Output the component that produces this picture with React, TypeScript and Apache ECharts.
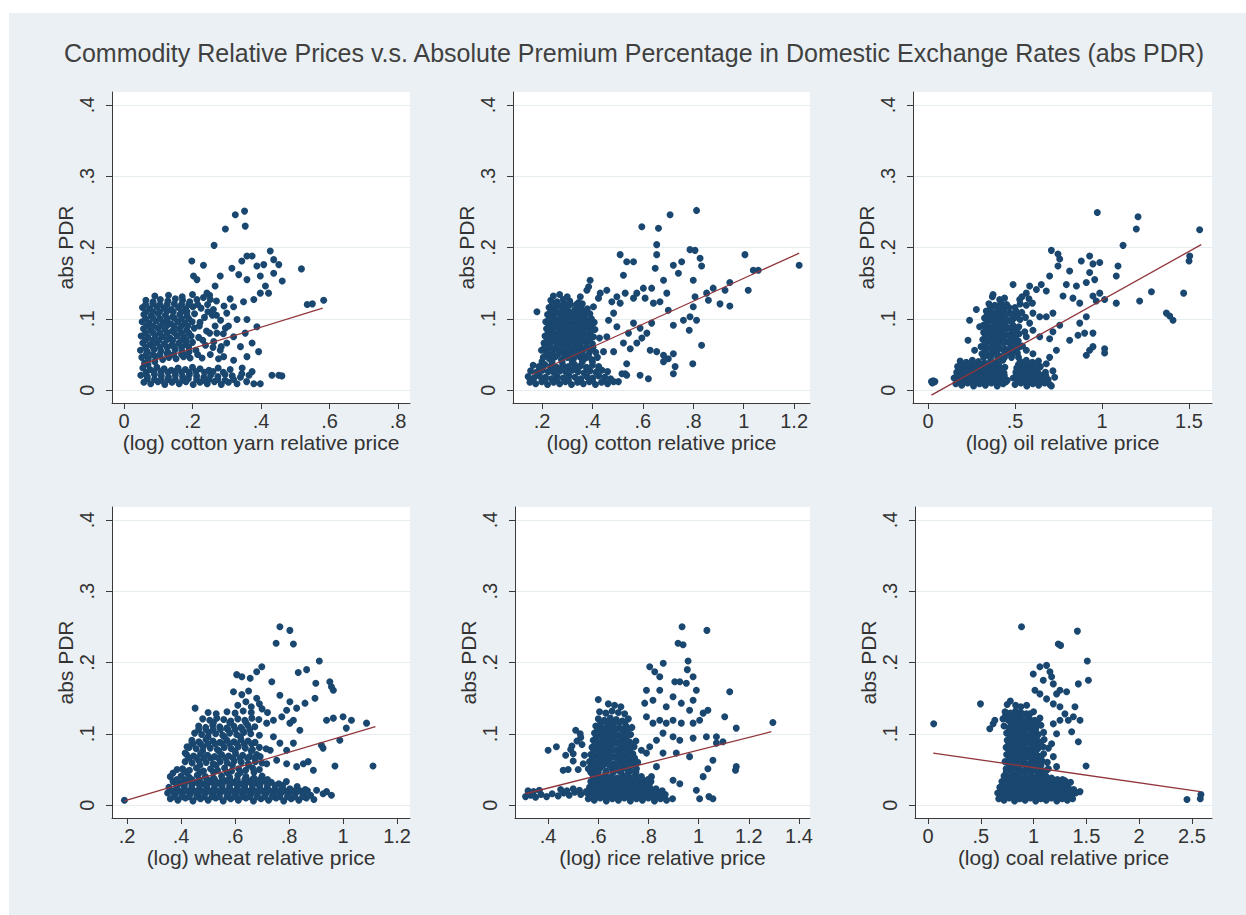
import React, { useEffect, useRef } from "react";
import * as echarts from "echarts";

const TITLE = "Commodity Relative Prices v.s. Absolute Premium Percentage in Domestic Exchange Rates (abs PDR)";
const Y_NAME = "abs PDR";
const Y_TICKS = [0, 0.1, 0.2, 0.3, 0.4];
const Y_MIN = -0.018;
const Y_MAX = 0.418;

// ---------- Panel 1: cotton yarn ----------
const yarnName = "(log) cotton yarn relative price";
const yarnTicks = [0, 0.2, 0.4, 0.6, 0.8];
const yarnRange = [-0.035, 0.835];
const yarnFit = [[0.05, 0.036], [0.58, 0.115]];
const yarnPoints = [
  [0.052,0.046],[0.071,0.044],[0.092,0.047],[0.113,0.043],[0.131,0.046],[0.152,0.044],[0.174,0.047],[0.193,0.045],
  [0.048,0.056],[0.068,0.054],[0.088,0.057],[0.108,0.055],[0.128,0.053],[0.149,0.057],[0.169,0.055],[0.19,0.054],[0.21,0.056],
  [0.055,0.066],[0.076,0.064],[0.097,0.067],[0.118,0.065],[0.139,0.063],[0.16,0.066],[0.181,0.064],[0.2,0.067],
  [0.05,0.076],[0.07,0.074],[0.091,0.077],[0.112,0.075],[0.134,0.073],[0.155,0.076],[0.176,0.074],[0.196,0.076],[0.218,0.074],
  [0.057,0.086],[0.078,0.084],[0.099,0.087],[0.12,0.085],[0.141,0.083],[0.162,0.086],[0.183,0.084],[0.205,0.087],
  [0.053,0.096],[0.073,0.094],[0.094,0.097],[0.115,0.095],[0.136,0.093],[0.157,0.096],[0.178,0.094],[0.199,0.096],[0.222,0.095],
  [0.058,0.106],[0.079,0.104],[0.1,0.107],[0.121,0.105],[0.142,0.103],[0.163,0.106],[0.184,0.104],[0.206,0.107],
  [0.054,0.116],[0.075,0.114],[0.096,0.117],[0.117,0.115],[0.138,0.113],[0.159,0.116],[0.18,0.114],[0.201,0.117],[0.225,0.115],
  [0.064,0.126],[0.085,0.124],[0.106,0.127],[0.128,0.125],[0.15,0.128],[0.171,0.126],[0.192,0.124],[0.213,0.127],
  [0.09,0.132],[0.13,0.133],[0.17,0.131],[0.2,0.134],
  [0.065,0.05],[0.105,0.05],[0.145,0.05],[0.185,0.05],[0.062,0.07],[0.102,0.07],[0.142,0.07],[0.182,0.07],
  [0.066,0.09],[0.106,0.09],[0.146,0.09],[0.186,0.09],[0.064,0.11],[0.104,0.11],[0.144,0.11],[0.184,0.11],
  [0.068,0.016],[0.128,0.015],[0.188,0.016],[0.248,0.015],[0.108,0.026],[0.168,0.025],
  [0.228,0.045],[0.252,0.05],[0.276,0.044],[0.238,0.063],[0.262,0.068],[0.284,0.061],[0.241,0.083],[0.266,0.09],[0.29,0.079],
  [0.235,0.102],[0.258,0.105],[0.282,0.098],[0.244,0.12],[0.27,0.125],[0.292,0.118],[0.232,0.13],[0.31,0.128],[0.305,0.09],[0.25,0.133],
  [0.058,0.011],[0.078,0.009],[0.099,0.012],[0.119,0.008],[0.14,0.011],[0.161,0.009],[0.181,0.012],[0.202,0.008],[0.222,0.011],
  [0.243,0.009],[0.264,0.012],[0.284,0.008],[0.305,0.011],[0.33,0.009],[0.358,0.012],
  [0.049,0.021],[0.068,0.019],[0.089,0.022],[0.109,0.02],[0.13,0.018],[0.15,0.021],[0.171,0.019],[0.191,0.022],[0.212,0.02],
  [0.233,0.018],[0.253,0.021],[0.274,0.019],[0.295,0.022],[0.316,0.02],[0.34,0.018],[0.365,0.021],
  [0.055,0.031],[0.076,0.029],[0.096,0.032],[0.117,0.03],[0.138,0.028],[0.158,0.031],[0.179,0.029],[0.2,0.032],[0.222,0.03],
  [0.248,0.028],[0.275,0.031],[0.31,0.029],[0.345,0.031],[0.06,0.038],[0.09,0.04],[0.07,0.036],
  [0.266,0.146],[0.242,0.136],[0.213,0.155],[0.281,0.16],[0.315,0.171],[0.335,0.162],[0.344,0.181],[0.359,0.188],[0.374,0.188],
  [0.359,0.155],[0.388,0.174],[0.398,0.16],[0.408,0.176],[0.427,0.195],[0.437,0.183],[0.452,0.176],[0.437,0.164],[0.462,0.153],
  [0.422,0.136],[0.398,0.136],[0.413,0.146],[0.379,0.127],[0.349,0.124],[0.32,0.117],[0.3,0.108],[0.33,0.099],[0.359,0.099],
  [0.388,0.089],[0.354,0.08],[0.32,0.075],[0.296,0.087],[0.271,0.08],[0.3,0.066],[0.34,0.061],[0.374,0.066],[0.393,0.054],
  [0.359,0.047],[0.32,0.042],[0.291,0.047],[0.281,0.056],[0.261,0.113],[0.252,0.127],[0.203,0.16],[0.198,0.181],[0.232,0.175],
  [0.263,0.203],[0.296,0.226],[0.325,0.246],[0.352,0.251],[0.354,0.23],[0.518,0.17],[0.535,0.12],[0.55,0.121],[0.583,0.126],
  [0.432,0.021],[0.452,0.021],[0.461,0.02],[0.379,0.009],[0.398,0.009],[0.374,0.026],[0.344,0.023]
];
const yarnCore = [
  [0.084,0.05],[0.126,0.051],[0.168,0.05],
  [0.063,0.06],[0.084,0.061],[0.105,0.06],[0.126,0.06],[0.147,0.061],[0.168,0.06],[0.189,0.06],
  [0.084,0.07],[0.126,0.071],[0.168,0.07],
  [0.063,0.08],[0.084,0.081],[0.105,0.08],[0.126,0.08],[0.147,0.081],[0.168,0.08],[0.189,0.08],
  [0.084,0.09],[0.126,0.091],[0.168,0.09],
  [0.063,0.1],[0.084,0.101],[0.105,0.1],[0.126,0.1],[0.147,0.101],[0.168,0.1],[0.189,0.1],
  [0.084,0.11],[0.126,0.111],[0.168,0.11],
  [0.063,0.12],[0.084,0.121],[0.105,0.12],[0.126,0.12],[0.147,0.121],[0.168,0.12],[0.189,0.12],
  [0.089,0.015],[0.109,0.014],[0.15,0.015],[0.171,0.014],[0.212,0.015],[0.233,0.014],[0.274,0.015],[0.295,0.014],[0.32,0.015],
  [0.065,0.025],[0.087,0.026],[0.128,0.025],[0.149,0.026],[0.19,0.025],[0.21,0.026],[0.235,0.025],[0.26,0.026],[0.29,0.025],
  [0.215,0.05],[0.23,0.07],[0.25,0.08],[0.22,0.09],[0.245,0.11],[0.27,0.105],[0.215,0.12],[0.26,0.06]
];

// ---------- Panel 2: cotton ----------
const cottonName = "(log) cotton relative price";
const cottonTicks = [0.2, 0.4, 0.6, 0.8, 1, 1.2];
const cottonRange = [0.085, 1.263];
const cottonFit = [[0.16, 0.022], [1.22, 0.192]];
const cottonPoints = [
  [0.152,0.011],[0.175,0.009],[0.199,0.012],[0.222,0.008],[0.246,0.011],[0.27,0.009],[0.293,0.012],[0.317,0.008],[0.341,0.011],
  [0.364,0.009],[0.388,0.012],[0.412,0.008],[0.436,0.011],[0.46,0.009],[0.484,0.012],
  [0.145,0.019],[0.168,0.017],[0.19,0.02],[0.214,0.018],[0.237,0.016],[0.26,0.019],[0.284,0.017],[0.307,0.02],[0.331,0.018],
  [0.354,0.016],[0.378,0.019],[0.401,0.017],[0.425,0.02],[0.449,0.018],[0.472,0.016],
  [0.155,0.027],[0.178,0.025],[0.202,0.028],[0.225,0.026],[0.249,0.024],[0.272,0.027],[0.296,0.025],[0.32,0.028],[0.343,0.026],
  [0.367,0.024],[0.39,0.027],[0.414,0.025],[0.438,0.028],[0.46,0.026],
  [0.165,0.035],[0.188,0.033],[0.211,0.036],[0.235,0.034],[0.258,0.032],[0.282,0.035],[0.305,0.033],[0.329,0.036],[0.352,0.034],
  [0.376,0.032],[0.4,0.035],[0.425,0.033],
  [0.205,0.046],[0.229,0.044],[0.253,0.047],[0.277,0.043],[0.301,0.046],[0.325,0.044],[0.349,0.047],[0.373,0.045],[0.397,0.043],[0.42,0.046],
  [0.198,0.056],[0.221,0.054],[0.245,0.057],[0.269,0.055],[0.293,0.053],[0.317,0.056],[0.341,0.054],[0.365,0.057],[0.39,0.055],[0.413,0.053],
  [0.208,0.066],[0.232,0.064],[0.256,0.067],[0.28,0.065],[0.304,0.063],[0.328,0.066],[0.352,0.064],[0.376,0.067],[0.4,0.065],
  [0.212,0.076],[0.236,0.074],[0.26,0.077],[0.284,0.075],[0.308,0.073],[0.332,0.076],[0.356,0.074],[0.38,0.077],[0.404,0.075],[0.428,0.073],
  [0.218,0.086],[0.242,0.084],[0.266,0.087],[0.29,0.085],[0.314,0.083],[0.338,0.086],[0.362,0.084],[0.386,0.087],[0.41,0.085],
  [0.215,0.096],[0.239,0.094],[0.263,0.097],[0.287,0.095],[0.311,0.093],[0.335,0.096],[0.359,0.094],[0.383,0.097],[0.407,0.095],
  [0.222,0.106],[0.246,0.104],[0.27,0.107],[0.294,0.105],[0.318,0.103],[0.342,0.106],[0.366,0.104],[0.39,0.107],
  [0.228,0.116],[0.252,0.114],[0.276,0.117],[0.3,0.115],[0.33,0.113],[0.355,0.116],[0.38,0.114],
  [0.235,0.126],[0.26,0.124],[0.284,0.127],[0.31,0.125],[0.345,0.123],[0.245,0.132],[0.27,0.134],[0.3,0.131],
  [0.51,0.19],[0.536,0.18],[0.563,0.18],[0.596,0.229],[0.662,0.227],[0.655,0.204],[0.655,0.19],[0.649,0.171],[0.708,0.246],
  [0.813,0.252],[0.787,0.197],[0.807,0.196],[0.827,0.185],[0.833,0.174],[1.005,0.19],[1.22,0.175],[1.038,0.168],[1.058,0.168],
  [1.018,0.14],[0.945,0.151],[0.926,0.14],[0.906,0.121],[0.945,0.118],[0.833,0.063],[0.798,0.037],[0.721,0.023],[0.728,0.033],
  [0.721,0.175],[0.741,0.164],[0.754,0.18],[0.8,0.154],[0.807,0.131],[0.853,0.136],[0.879,0.143],[0.86,0.126],[0.8,0.117],
  [0.787,0.103],[0.813,0.098],[0.784,0.084],[0.761,0.098],[0.721,0.091],[0.701,0.112],[0.668,0.124],[0.695,0.136],[0.682,0.154],
  [0.635,0.143],[0.602,0.143],[0.576,0.136],[0.609,0.129],[0.642,0.122],[0.563,0.129],[0.53,0.136],[0.497,0.131],[0.51,0.122],
  [0.477,0.124],[0.457,0.14],[0.391,0.154],[0.385,0.145],[0.431,0.136],[0.523,0.161],[0.635,0.094],[0.616,0.08],[0.589,0.087],
  [0.563,0.094],[0.543,0.08],[0.523,0.066],[0.55,0.058],[0.576,0.066],[0.596,0.073],[0.484,0.108],[0.464,0.098],[0.497,0.089],
  [0.457,0.075],[0.444,0.054],[0.484,0.054],[0.629,0.056],[0.655,0.054],[0.682,0.049],[0.701,0.044],[0.721,0.051],[0.682,0.04],
  [0.536,0.037],[0.517,0.023],[0.536,0.021],[0.589,0.021],[0.622,0.016],[0.503,0.012],[0.53,0.023],[0.18,0.11],[0.352,0.131],
  [0.378,0.14],[0.424,0.129],[0.404,0.117]
];
const cottonCore = [
  [0.217,0.05],[0.241,0.05],[0.265,0.051],[0.289,0.05],[0.313,0.05],[0.337,0.051],[0.361,0.05],[0.385,0.05],
  [0.22,0.07],[0.244,0.07],[0.268,0.071],[0.292,0.07],[0.316,0.07],[0.34,0.071],[0.364,0.07],[0.388,0.07],
  [0.227,0.09],[0.251,0.09],[0.275,0.091],[0.299,0.09],[0.323,0.09],[0.347,0.091],[0.371,0.09],[0.395,0.09],
  [0.234,0.11],[0.258,0.11],[0.282,0.111],[0.306,0.11],[0.33,0.11],[0.354,0.111],[0.378,0.11],
  [0.21,0.06],[0.234,0.06],[0.258,0.061],[0.282,0.06],[0.306,0.06],[0.33,0.061],[0.354,0.06],[0.378,0.06],[0.402,0.06],
  [0.224,0.08],[0.248,0.08],[0.272,0.081],[0.296,0.08],[0.32,0.08],[0.344,0.081],[0.368,0.08],[0.392,0.08],
  [0.228,0.1],[0.252,0.1],[0.276,0.101],[0.3,0.1],[0.324,0.1],[0.348,0.101],[0.372,0.1],[0.396,0.1],
  [0.24,0.12],[0.264,0.12],[0.288,0.121],[0.312,0.12],[0.336,0.12],[0.36,0.121],
  [0.2,0.04],[0.24,0.04],[0.28,0.04],[0.32,0.04],[0.36,0.04],[0.4,0.04],
  [0.163,0.014],[0.21,0.014],[0.258,0.014],[0.305,0.014],[0.352,0.014],[0.4,0.014],[0.447,0.014],
  [0.19,0.03],[0.237,0.03],[0.284,0.03],[0.331,0.03],[0.378,0.03],[0.425,0.03]
];

// ---------- Panel 3: oil ----------
const oilName = "(log) oil relative price";
const oilTicks = [0, 0.5, 1, 1.5];
const oilRange = [-0.086, 1.632];
const oilFit = [[0.02, -0.007], [1.57, 0.204]];
const oilPoints = [
  [0.02,0.012],[0.03,0.013],[0.04,0.012],[0.025,0.01],
  [0.16,0.009],[0.194,0.007],[0.228,0.01],[0.262,0.006],[0.296,0.009],[0.33,0.007],[0.364,0.01],[0.398,0.006],[0.432,0.009],
  [0.5,0.008],[0.534,0.01],[0.568,0.006],[0.602,0.009],[0.636,0.007],[0.67,0.01],[0.7,0.008],
  [0.15,0.017],[0.184,0.015],[0.218,0.018],[0.252,0.016],[0.286,0.014],[0.32,0.017],[0.354,0.015],[0.388,0.018],[0.422,0.016],
  [0.456,0.014],[0.49,0.017],[0.524,0.015],[0.558,0.018],[0.592,0.016],[0.626,0.014],[0.66,0.017],[0.69,0.015],
  [0.165,0.025],[0.199,0.023],[0.233,0.026],[0.267,0.024],[0.301,0.022],[0.335,0.025],[0.369,0.023],[0.403,0.026],[0.437,0.024],
  [0.505,0.025],[0.539,0.023],[0.573,0.026],[0.607,0.024],[0.641,0.022],[0.675,0.025],
  [0.17,0.033],[0.204,0.031],[0.238,0.034],[0.272,0.032],[0.306,0.03],[0.34,0.033],[0.374,0.031],[0.408,0.034],[0.442,0.032],
  [0.51,0.031],[0.544,0.034],[0.578,0.032],[0.612,0.03],[0.646,0.033],
  [0.185,0.041],[0.22,0.039],[0.255,0.042],[0.29,0.04],[0.325,0.038],[0.36,0.041],[0.395,0.039],[0.43,0.042],[0.53,0.04],
  [0.565,0.042],[0.6,0.039],[0.635,0.041],
  [0.31,0.051],[0.344,0.049],[0.378,0.052],[0.412,0.048],[0.446,0.051],[0.48,0.049],[0.514,0.052],
  [0.305,0.061],[0.339,0.059],[0.373,0.062],[0.407,0.06],[0.441,0.058],[0.475,0.061],[0.509,0.059],[0.543,0.062],
  [0.315,0.071],[0.349,0.069],[0.383,0.072],[0.417,0.07],[0.451,0.068],[0.485,0.071],[0.519,0.069],
  [0.32,0.081],[0.354,0.079],[0.388,0.082],[0.422,0.08],[0.456,0.078],[0.49,0.081],[0.524,0.079],[0.556,0.082],
  [0.318,0.091],[0.352,0.089],[0.386,0.092],[0.42,0.09],[0.454,0.088],[0.488,0.091],[0.522,0.089],
  [0.325,0.101],[0.359,0.099],[0.393,0.102],[0.427,0.1],[0.461,0.098],[0.495,0.101],[0.529,0.099],[0.56,0.102],
  [0.335,0.111],[0.369,0.109],[0.403,0.112],[0.437,0.11],[0.471,0.108],[0.505,0.111],[0.539,0.109],
  [0.35,0.121],[0.384,0.119],[0.418,0.122],[0.452,0.12],[0.53,0.121],[0.565,0.119],[0.6,0.122],
  [0.37,0.131],[0.44,0.129],[0.54,0.131],[0.58,0.128],
  [0.33,0.056],[0.4,0.056],[0.47,0.056],[0.33,0.076],[0.4,0.076],[0.47,0.076],[0.34,0.096],[0.41,0.096],[0.48,0.096],
  [0.36,0.116],[0.43,0.116],[0.5,0.116],
  [0.239,0.098],[0.23,0.07],[0.268,0.056],[0.374,0.134],[0.412,0.127],[0.489,0.148],[0.527,0.127],[0.565,0.136],[0.584,0.146],
  [0.623,0.141],[0.651,0.148],[0.68,0.139],[0.699,0.16],[0.709,0.196],[0.747,0.191],[0.757,0.184],[0.747,0.174],[0.814,0.167],
  [0.881,0.181],[0.929,0.188],[0.948,0.177],[0.987,0.179],[0.929,0.165],[0.958,0.155],[0.91,0.151],[0.853,0.146],[0.795,0.148],
  [0.776,0.132],[0.833,0.129],[0.872,0.122],[0.948,0.132],[0.987,0.136],[0.967,0.125],[1.015,0.127],[1.082,0.122],[1.082,0.16],
  [1.092,0.174],[1.121,0.203],[1.197,0.226],[1.207,0.243],[0.973,0.249],[1.561,0.225],[1.504,0.188],[1.5,0.181],[1.469,0.136],
  [1.284,0.138],[1.216,0.125],[1.37,0.108],[1.389,0.104],[1.408,0.098],[1.015,0.058],[1.015,0.052],[0.948,0.061],[0.929,0.056],
  [0.91,0.049],[0.948,0.08],[0.9,0.08],[0.862,0.077],[0.872,0.094],[0.91,0.103],[0.814,0.07],[0.757,0.091],[0.718,0.082],
  [0.699,0.072],[0.738,0.056],[0.699,0.046],[0.68,0.037],[0.718,0.027],[0.709,0.006],[0.728,0.018],[0.642,0.075],[0.603,0.084],
  [0.68,0.103],[0.718,0.108],[0.642,0.103],[0.603,0.108],[0.584,0.094],[0.565,0.075],[0.527,0.061],[0.565,0.056],[0.603,0.051],
  [0.489,0.056],[0.278,0.113],[0.297,0.089]
];
const oilCore = [
  [0.33,0.066],[0.365,0.066],[0.4,0.066],[0.435,0.066],[0.47,0.066],[0.505,0.066],
  [0.335,0.086],[0.37,0.086],[0.405,0.086],[0.44,0.086],[0.475,0.086],[0.51,0.086],
  [0.34,0.106],[0.375,0.106],[0.41,0.106],[0.445,0.106],[0.48,0.106],[0.515,0.106],
  [0.365,0.056],[0.435,0.056],[0.505,0.056],[0.365,0.076],[0.435,0.076],[0.505,0.076],[0.375,0.096],[0.445,0.096],[0.395,0.116],[0.465,0.116],
  [0.177,0.012],[0.211,0.012],[0.245,0.012],[0.279,0.012],[0.313,0.012],[0.347,0.012],[0.381,0.012],[0.415,0.012],[0.449,0.012],
  [0.517,0.012],[0.551,0.012],[0.585,0.012],[0.619,0.012],[0.653,0.012],
  [0.187,0.028],[0.221,0.028],[0.255,0.028],[0.289,0.028],[0.323,0.028],[0.357,0.028],[0.391,0.028],[0.425,0.028],
  [0.527,0.028],[0.561,0.028],[0.595,0.028],[0.629,0.028],
  [0.167,0.02],[0.201,0.02],[0.235,0.02],[0.269,0.02],[0.303,0.02],[0.337,0.02],[0.371,0.02],[0.405,0.02],[0.439,0.02],
  [0.507,0.02],[0.541,0.02],[0.575,0.02],[0.609,0.02],[0.643,0.02],[0.677,0.02],
  [0.195,0.036],[0.23,0.036],[0.265,0.036],[0.3,0.036],[0.335,0.036],[0.37,0.036],[0.405,0.036],[0.52,0.036],[0.555,0.036],
  [0.59,0.036],[0.625,0.036],
  [0.32,0.046],[0.36,0.046],[0.4,0.046],[0.44,0.046],[0.48,0.046],[0.52,0.046]
];

// ---------- Panel 4: wheat ----------
const wheatName = "(log) wheat relative price";
const wheatTicks = [0.2, 0.4, 0.6, 0.8, 1, 1.2];
const wheatRange = [0.144, 1.248];
const wheatFit = [[0.19, 0.006], [1.12, 0.11]];
const wheatPoints = [
  [0.19,0.007],
  [0.36,0.009],[0.388,0.007],[0.416,0.01],[0.444,0.006],[0.472,0.009],[0.5,0.007],[0.528,0.01],[0.556,0.006],[0.584,0.009],
  [0.612,0.007],[0.64,0.01],[0.668,0.006],[0.696,0.009],[0.724,0.007],[0.752,0.01],[0.78,0.006],[0.808,0.009],[0.836,0.007],
  [0.864,0.01],[0.892,0.008],
  [0.35,0.017],[0.378,0.015],[0.406,0.018],[0.434,0.016],[0.462,0.014],[0.49,0.017],[0.518,0.015],[0.546,0.018],[0.574,0.016],
  [0.602,0.014],[0.63,0.017],[0.658,0.015],[0.686,0.018],[0.714,0.016],[0.742,0.014],[0.77,0.017],[0.798,0.015],[0.826,0.018],
  [0.854,0.016],[0.88,0.014],
  [0.355,0.025],[0.383,0.023],[0.411,0.026],[0.439,0.024],[0.467,0.022],[0.495,0.025],[0.523,0.023],[0.551,0.026],[0.579,0.024],
  [0.607,0.022],[0.635,0.025],[0.663,0.023],[0.691,0.026],[0.719,0.024],[0.747,0.022],[0.775,0.025],[0.803,0.023],[0.83,0.026],[0.86,0.022],
  [0.37,0.033],[0.398,0.031],[0.426,0.034],[0.454,0.032],[0.482,0.03],[0.51,0.033],[0.538,0.031],[0.566,0.034],[0.594,0.032],
  [0.622,0.03],[0.65,0.033],[0.678,0.031],[0.706,0.034],[0.734,0.032],[0.762,0.03],[0.79,0.033],
  [0.4,0.041],[0.43,0.039],[0.46,0.042],[0.49,0.04],[0.52,0.038],[0.55,0.041],[0.58,0.039],[0.61,0.042],[0.64,0.04],[0.67,0.038],[0.7,0.041],
  [0.405,0.051],[0.431,0.049],[0.457,0.052],[0.483,0.048],[0.509,0.051],[0.535,0.049],[0.561,0.052],[0.587,0.048],[0.613,0.051],
  [0.639,0.049],[0.665,0.052],[0.69,0.05],
  [0.415,0.061],[0.441,0.059],[0.467,0.062],[0.493,0.06],[0.519,0.058],[0.545,0.061],[0.571,0.059],[0.597,0.062],[0.623,0.06],
  [0.649,0.058],[0.675,0.061],[0.7,0.059],
  [0.42,0.071],[0.446,0.069],[0.472,0.072],[0.498,0.07],[0.524,0.068],[0.55,0.071],[0.576,0.069],[0.602,0.072],[0.628,0.07],
  [0.654,0.068],[0.68,0.071],
  [0.43,0.081],[0.456,0.079],[0.482,0.082],[0.508,0.08],[0.534,0.078],[0.56,0.081],[0.586,0.079],[0.612,0.082],[0.638,0.08],
  [0.664,0.078],[0.69,0.081],[0.715,0.079],
  [0.44,0.091],[0.466,0.089],[0.492,0.092],[0.518,0.09],[0.544,0.088],[0.57,0.091],[0.596,0.089],[0.622,0.092],[0.648,0.09],[0.674,0.088],
  [0.45,0.101],[0.476,0.099],[0.502,0.102],[0.528,0.1],[0.554,0.098],[0.58,0.101],[0.606,0.099],[0.632,0.102],[0.658,0.1],[0.69,0.098],
  [0.465,0.111],[0.491,0.109],[0.517,0.112],[0.543,0.11],[0.569,0.108],[0.595,0.111],[0.621,0.109],[0.647,0.112],[0.673,0.11],
  [0.48,0.121],[0.506,0.119],[0.532,0.122],[0.558,0.12],[0.584,0.118],[0.61,0.121],[0.636,0.119],[0.662,0.122],[0.688,0.12],
  [0.5,0.13],[0.53,0.128],[0.57,0.131],[0.6,0.129],[0.63,0.132],[0.66,0.13],
  [0.61,0.14],[0.64,0.145],[0.66,0.138],[0.625,0.155],[0.65,0.16],[0.68,0.15],[0.69,0.142],[0.7,0.135],[0.72,0.13],
  [0.37,0.045],[0.385,0.05],[0.36,0.04],
  [0.47,0.056],[0.53,0.056],[0.59,0.056],[0.65,0.056],[0.48,0.076],[0.54,0.076],[0.6,0.076],[0.66,0.076],
  [0.5,0.096],[0.56,0.096],[0.62,0.096],[0.52,0.116],[0.58,0.116],[0.64,0.116],
  [0.766,0.25],[0.803,0.245],[0.752,0.227],[0.816,0.226],[0.912,0.202],[0.865,0.19],[0.834,0.186],[0.699,0.194],[0.68,0.187],
  [0.606,0.183],[0.625,0.18],[0.656,0.178],[0.594,0.159],[0.736,0.173],[0.452,0.136],[0.766,0.154],[0.803,0.145],[0.828,0.136],
  [0.859,0.143],[0.896,0.15],[0.899,0.171],[0.951,0.173],[0.957,0.166],[0.964,0.161],[0.939,0.119],[0.964,0.122],[1.0,0.124],
  [1.031,0.119],[1.087,0.115],[1.012,0.108],[0.988,0.091],[0.92,0.084],[0.926,0.08],[0.97,0.055],[1.111,0.055],[0.816,0.119],
  [0.803,0.115],[0.791,0.133],[0.773,0.124],[0.84,0.105],[0.816,0.087],[0.791,0.077],[0.766,0.087],[0.742,0.096],[0.73,0.077],
  [0.754,0.063],[0.791,0.058],[0.828,0.054],[0.853,0.058],[0.89,0.049],[0.871,0.061],[0.717,0.058],[0.693,0.068],[0.717,0.115],
  [0.742,0.119],[0.422,0.082],[0.415,0.073],[0.44,0.087],[0.409,0.049],[0.939,0.019],[0.957,0.014],[0.902,0.021],[0.926,0.016]
];
const wheatCore = [
  [0.374,0.012],[0.402,0.012],[0.43,0.012],[0.458,0.012],[0.486,0.012],[0.514,0.012],[0.542,0.012],[0.57,0.012],[0.598,0.012],
  [0.626,0.012],[0.654,0.012],[0.682,0.012],[0.71,0.012],[0.738,0.012],[0.766,0.012],[0.794,0.012],[0.822,0.012],[0.85,0.012],
  [0.384,0.028],[0.412,0.028],[0.44,0.028],[0.468,0.028],[0.496,0.028],[0.524,0.028],[0.552,0.028],[0.58,0.028],[0.608,0.028],
  [0.636,0.028],[0.664,0.028],[0.692,0.028],[0.72,0.028],[0.748,0.028],[0.776,0.028],
  [0.364,0.02],[0.392,0.02],[0.42,0.02],[0.448,0.02],[0.476,0.02],[0.504,0.02],[0.532,0.02],[0.56,0.02],[0.588,0.02],[0.616,0.02],
  [0.644,0.02],[0.672,0.02],[0.7,0.02],[0.728,0.02],[0.756,0.02],[0.784,0.02],[0.812,0.02],[0.84,0.02],[0.868,0.02],
  [0.384,0.036],[0.412,0.036],[0.44,0.036],[0.468,0.036],[0.496,0.036],[0.524,0.036],[0.552,0.036],[0.58,0.036],[0.608,0.036],
  [0.636,0.036],[0.664,0.036],[0.692,0.036],[0.72,0.036],
  [0.42,0.046],[0.47,0.046],[0.52,0.046],[0.57,0.046],[0.62,0.046],[0.67,0.046],
  [0.43,0.066],[0.457,0.066],[0.484,0.066],[0.511,0.066],[0.538,0.066],[0.565,0.066],[0.592,0.066],[0.619,0.066],[0.646,0.066],[0.673,0.066],
  [0.445,0.086],[0.472,0.086],[0.499,0.086],[0.526,0.086],[0.553,0.086],[0.58,0.086],[0.607,0.086],[0.634,0.086],[0.661,0.086],
  [0.465,0.106],[0.492,0.106],[0.519,0.106],[0.546,0.106],[0.573,0.106],[0.6,0.106],[0.627,0.106],[0.654,0.106]
];

// ---------- Panel 5: rice ----------
const riceName = "(log) rice relative price";
const riceTicks = [0.4, 0.6, 0.8, 1, 1.2, 1.4];
const riceRange = [0.268, 1.444];
const riceFit = [[0.31, 0.016], [1.29, 0.103]];
const ricePoints = [
  [0.31,0.012],[0.33,0.014],[0.35,0.011],[0.372,0.015],[0.394,0.012],[0.416,0.016],[0.44,0.013],[0.462,0.017],[0.484,0.014],
  [0.506,0.018],[0.53,0.015],[0.552,0.019],[0.32,0.02],[0.342,0.019],[0.365,0.021],[0.45,0.022],[0.475,0.02],[0.5,0.023],[0.525,0.021],
  [0.56,0.009],[0.584,0.007],[0.608,0.01],[0.632,0.006],[0.656,0.009],[0.68,0.007],[0.704,0.01],[0.728,0.006],[0.752,0.009],
  [0.776,0.007],[0.8,0.01],[0.824,0.006],[0.848,0.009],[0.872,0.007],[0.896,0.009],
  [0.555,0.017],[0.579,0.015],[0.603,0.018],[0.627,0.016],[0.651,0.014],[0.675,0.017],[0.699,0.015],[0.723,0.018],[0.747,0.016],
  [0.771,0.014],[0.795,0.017],[0.819,0.015],[0.843,0.018],[0.867,0.015],
  [0.565,0.025],[0.589,0.023],[0.613,0.026],[0.637,0.024],[0.661,0.022],[0.685,0.025],[0.709,0.023],[0.733,0.026],[0.757,0.024],
  [0.781,0.022],[0.805,0.025],[0.83,0.023],
  [0.57,0.033],[0.594,0.031],[0.618,0.034],[0.642,0.032],[0.666,0.03],[0.69,0.033],[0.714,0.031],[0.738,0.034],[0.762,0.032],
  [0.786,0.03],[0.81,0.033],
  [0.58,0.041],[0.604,0.039],[0.628,0.042],[0.652,0.04],[0.676,0.038],[0.7,0.041],[0.724,0.039],[0.748,0.042],[0.772,0.04],
  [0.56,0.051],[0.584,0.049],[0.608,0.052],[0.632,0.048],[0.656,0.051],[0.68,0.049],[0.704,0.052],[0.728,0.048],[0.752,0.051],
  [0.565,0.061],[0.589,0.059],[0.613,0.062],[0.637,0.06],[0.661,0.058],[0.685,0.061],[0.709,0.059],[0.733,0.062],[0.757,0.06],
  [0.57,0.071],[0.594,0.069],[0.618,0.072],[0.642,0.07],[0.666,0.068],[0.69,0.071],[0.714,0.069],[0.738,0.072],
  [0.575,0.081],[0.599,0.079],[0.623,0.082],[0.647,0.08],[0.671,0.078],[0.695,0.081],[0.719,0.079],[0.743,0.082],
  [0.58,0.091],[0.604,0.089],[0.628,0.092],[0.652,0.09],[0.676,0.088],[0.7,0.091],[0.724,0.089],[0.75,0.09],
  [0.585,0.101],[0.609,0.099],[0.633,0.102],[0.657,0.1],[0.681,0.098],[0.705,0.101],[0.729,0.099],
  [0.59,0.111],[0.614,0.109],[0.638,0.112],[0.662,0.11],[0.686,0.108],[0.71,0.111],[0.734,0.109],
  [0.6,0.121],[0.624,0.119],[0.648,0.122],[0.672,0.12],[0.696,0.118],[0.72,0.121],
  [0.605,0.131],[0.63,0.129],[0.655,0.132],[0.68,0.13],[0.705,0.128],
  [0.6,0.148],[0.64,0.142],[0.665,0.14],[0.69,0.138],
  [0.47,0.07],[0.49,0.078],[0.5,0.062],[0.515,0.09],[0.528,0.1],[0.51,0.105],[0.535,0.085],[0.545,0.07],[0.48,0.05],[0.52,0.05],
  [0.5,0.072],[0.53,0.095],[0.54,0.058],[0.495,0.083],
  [0.934,0.25],[1.033,0.245],[0.918,0.227],[0.938,0.225],[0.958,0.202],[0.955,0.19],[0.925,0.173],[0.905,0.173],[1.124,0.159],
  [1.296,0.116],[1.104,0.124],[1.15,0.108],[1.15,0.054],[1.147,0.049],[1.097,0.089],[1.071,0.087],[1.057,0.063],[1.037,0.051],
  [1.018,0.04],[0.991,0.021],[1.004,0.009],[1.041,0.012],[1.057,0.009],[0.4,0.077],[0.433,0.082],[0.46,0.049],[0.805,0.194],
  [0.825,0.187],[0.845,0.18],[0.859,0.199],[0.845,0.161],[0.792,0.161],[0.785,0.143],[0.818,0.147],[0.871,0.138],[0.898,0.152],
  [0.931,0.143],[0.951,0.171],[0.978,0.18],[0.991,0.161],[0.978,0.147],[0.964,0.133],[1.018,0.129],[1.037,0.133],[1.004,0.119],
  [0.978,0.115],[0.931,0.115],[0.898,0.119],[0.871,0.115],[0.845,0.119],[0.818,0.115],[0.792,0.124],[0.858,0.101],[0.898,0.096],
  [0.925,0.091],[0.978,0.094],[1.031,0.096],[1.071,0.096],[0.832,0.091],[0.805,0.082],[0.792,0.073],[0.858,0.073],[0.911,0.073],
  [0.964,0.068],[0.772,0.077],[0.832,0.054],[0.898,0.035],[0.925,0.03],[0.812,0.04]
];
const riceCore = [
  [0.572,0.056],[0.596,0.056],[0.62,0.056],[0.644,0.056],[0.668,0.056],[0.692,0.056],[0.716,0.056],[0.74,0.056],
  [0.582,0.076],[0.606,0.076],[0.63,0.076],[0.654,0.076],[0.678,0.076],[0.702,0.076],[0.726,0.076],
  [0.592,0.096],[0.616,0.096],[0.64,0.096],[0.664,0.096],[0.688,0.096],[0.712,0.096],
  [0.61,0.116],[0.634,0.116],[0.658,0.116],[0.682,0.116],[0.706,0.116],
  [0.572,0.012],[0.596,0.012],[0.62,0.012],[0.644,0.012],[0.668,0.012],[0.692,0.012],[0.716,0.012],[0.74,0.012],[0.764,0.012],
  [0.788,0.012],[0.812,0.012],[0.836,0.012],[0.86,0.012],
  [0.582,0.028],[0.606,0.028],[0.63,0.028],[0.654,0.028],[0.678,0.028],[0.702,0.028],[0.726,0.028],[0.75,0.028],[0.774,0.028],[0.798,0.028],
  [0.567,0.02],[0.591,0.02],[0.615,0.02],[0.639,0.02],[0.663,0.02],[0.687,0.02],[0.711,0.02],[0.735,0.02],[0.759,0.02],
  [0.783,0.02],[0.807,0.02],[0.831,0.02],[0.855,0.02],
  [0.582,0.036],[0.606,0.036],[0.63,0.036],[0.654,0.036],[0.678,0.036],[0.702,0.036],[0.726,0.036],[0.75,0.036],[0.774,0.036],[0.798,0.036],
  [0.577,0.066],[0.601,0.066],[0.625,0.066],[0.649,0.066],[0.673,0.066],[0.697,0.066],[0.721,0.066],[0.745,0.066],
  [0.587,0.086],[0.611,0.086],[0.635,0.086],[0.659,0.086],[0.683,0.086],[0.707,0.086],[0.731,0.086],
  [0.597,0.106],[0.621,0.106],[0.645,0.106],[0.669,0.106],[0.693,0.106],[0.717,0.106],
  [0.57,0.046],[0.6,0.046],[0.63,0.046],[0.66,0.046],[0.69,0.046],[0.72,0.046],[0.75,0.046]
];

// ---------- Panel 6: coal ----------
const coalName = "(log) coal relative price";
const coalTicks = [0, 0.5, 1, 1.5, 2, 2.5];
const coalRange = [-0.123, 2.69];
const coalFit = [[0.05, 0.073], [2.58, 0.019]];
const coalPoints = [
  [0.054,0.114],[0.497,0.142],
  [0.67,0.009],[0.72,0.007],[0.77,0.01],[0.82,0.006],[0.87,0.009],[0.92,0.007],[0.97,0.01],[1.02,0.006],[1.07,0.009],[1.12,0.007],
  [1.17,0.01],[1.22,0.006],[1.27,0.009],[1.32,0.007],[1.37,0.009],
  [0.66,0.017],[0.71,0.015],[0.76,0.018],[0.81,0.016],[0.86,0.014],[0.91,0.017],[0.96,0.015],[1.01,0.018],[1.06,0.016],[1.11,0.014],
  [1.16,0.017],[1.21,0.015],[1.26,0.018],[1.31,0.016],[1.36,0.014],[1.4,0.017],
  [0.68,0.025],[0.73,0.023],[0.78,0.026],[0.83,0.024],[0.88,0.022],[0.93,0.025],[0.98,0.023],[1.03,0.026],[1.08,0.024],[1.13,0.022],
  [1.18,0.025],[1.23,0.023],[1.28,0.026],[1.33,0.024],[1.38,0.022],
  [0.7,0.033],[0.75,0.031],[0.8,0.034],[0.85,0.032],[0.9,0.03],[0.95,0.033],[1.0,0.031],[1.05,0.034],[1.1,0.032],[1.15,0.03],
  [1.2,0.033],[1.25,0.031],[1.3,0.034],[1.35,0.032],
  [0.72,0.041],[0.77,0.039],[0.82,0.042],[0.87,0.04],[0.92,0.038],[0.97,0.041],[1.02,0.039],[1.07,0.042],[1.12,0.04],[1.17,0.038],
  [0.74,0.051],[0.79,0.049],[0.84,0.052],[0.89,0.048],[0.94,0.051],[0.99,0.049],[1.04,0.052],[1.09,0.048],[1.14,0.051],
  [0.73,0.061],[0.78,0.059],[0.83,0.062],[0.88,0.06],[0.93,0.058],[0.98,0.061],[1.03,0.059],[1.08,0.062],[1.13,0.06],
  [0.745,0.071],[0.795,0.069],[0.845,0.072],[0.895,0.07],[0.945,0.068],[0.995,0.071],[1.045,0.069],[1.095,0.072],
  [0.74,0.081],[0.79,0.079],[0.84,0.082],[0.89,0.08],[0.94,0.078],[0.99,0.081],[1.04,0.079],[1.09,0.082],[1.14,0.08],
  [0.75,0.091],[0.8,0.089],[0.85,0.092],[0.9,0.09],[0.95,0.088],[1.0,0.091],[1.05,0.089],[1.1,0.092],
  [0.745,0.101],[0.795,0.099],[0.845,0.102],[0.895,0.1],[0.945,0.098],[0.995,0.101],[1.045,0.099],[1.095,0.102],
  [0.72,0.111],[0.77,0.109],[0.82,0.112],[0.87,0.11],[0.92,0.108],[0.97,0.111],[1.02,0.109],[1.07,0.112],
  [0.71,0.121],[0.76,0.119],[0.81,0.122],[0.86,0.12],[0.91,0.118],[0.96,0.121],[1.01,0.119],[1.06,0.122],
  [0.73,0.131],[0.78,0.129],[0.83,0.132],[0.88,0.13],[0.93,0.128],[1.0,0.131],
  [0.75,0.141],[0.78,0.146],[0.83,0.14],[0.88,0.138],
  [0.77,0.056],[0.87,0.056],[0.97,0.056],[1.07,0.056],[0.77,0.076],[0.87,0.076],[0.97,0.076],[0.78,0.096],[0.88,0.096],
  [0.98,0.096],[0.79,0.116],[0.89,0.116],[0.99,0.116],
  [0.886,0.25],[1.415,0.244],[1.234,0.226],[1.256,0.224],[1.509,0.202],[1.519,0.175],[1.424,0.17],[1.424,0.089],[1.361,0.103],
  [1.497,0.055],[1.44,0.019],[2.453,0.008],[2.585,0.015],[2.579,0.009],[0.997,0.184],[1.06,0.194],[1.123,0.196],[1.155,0.187],
  [1.171,0.18],[1.092,0.175],[1.187,0.17],[1.25,0.161],[1.313,0.159],[1.218,0.156],[1.013,0.161],[1.06,0.156],[1.123,0.149],
  [1.187,0.142],[1.25,0.138],[1.297,0.128],[1.329,0.119],[1.377,0.124],[1.44,0.119],[1.392,0.138],[1.25,0.119],[1.187,0.114],
  [1.218,0.1],[1.171,0.086],[1.187,0.068],[1.218,0.054],[1.123,0.049],[0.934,0.14],[0.965,0.128],[0.585,0.107],[0.617,0.114],[0.633,0.119]
];
const coalCore = [
  [0.77,0.066],[0.82,0.066],[0.87,0.066],[0.92,0.066],[0.97,0.066],[1.02,0.066],[1.07,0.066],
  [0.765,0.086],[0.815,0.086],[0.865,0.086],[0.915,0.086],[0.965,0.086],[1.015,0.086],[1.065,0.086],
  [0.77,0.106],[0.82,0.106],[0.87,0.106],[0.92,0.106],[0.97,0.106],[1.02,0.106],
  [0.735,0.126],[0.785,0.126],[0.835,0.126],[0.885,0.126],[0.935,0.126],
  [0.695,0.012],[0.745,0.012],[0.795,0.012],[0.845,0.012],[0.895,0.012],[0.945,0.012],[0.995,0.012],[1.045,0.012],[1.095,0.012],
  [1.145,0.012],[1.195,0.012],[1.245,0.012],[1.295,0.012],[1.345,0.012],
  [0.705,0.028],[0.755,0.028],[0.805,0.028],[0.855,0.028],[0.905,0.028],[0.955,0.028],[1.005,0.028],[1.055,0.028],[1.105,0.028],
  [1.155,0.028],[1.205,0.028],[1.255,0.028],[1.305,0.028],
  [0.685,0.02],[0.735,0.02],[0.785,0.02],[0.835,0.02],[0.885,0.02],[0.935,0.02],[0.985,0.02],[1.035,0.02],[1.085,0.02],
  [1.135,0.02],[1.185,0.02],[1.235,0.02],[1.285,0.02],[1.335,0.02],[1.385,0.02],
  [0.725,0.036],[0.775,0.036],[0.825,0.036],[0.875,0.036],[0.925,0.036],[0.975,0.036],[1.025,0.036],[1.075,0.036],[1.125,0.036],
  [1.175,0.036],[1.225,0.036],[1.275,0.036],
  [0.74,0.046],[0.8,0.046],[0.86,0.046],[0.92,0.046],[0.98,0.046],[1.04,0.046],[1.1,0.046],
  [0.82,0.076],[0.92,0.076],[1.02,0.076],[0.83,0.096],[0.93,0.096],[1.03,0.096],[0.84,0.116],[0.94,0.116],[1.04,0.116],
  [0.82,0.056],[0.92,0.056],[1.02,0.056]
];

const PANELS = [
  { name: yarnName, ticks: yarnTicks, range: yarnRange, points: yarnPoints, core: yarnCore, fit: yarnFit },
  { name: cottonName, ticks: cottonTicks, range: cottonRange, points: cottonPoints, core: cottonCore, fit: cottonFit },
  { name: oilName, ticks: oilTicks, range: oilRange, points: oilPoints, core: oilCore, fit: oilFit },
  { name: wheatName, ticks: wheatTicks, range: wheatRange, points: wheatPoints, core: wheatCore, fit: wheatFit },
  { name: riceName, ticks: riceTicks, range: riceRange, points: ricePoints, core: riceCore, fit: riceFit },
  { name: coalName, ticks: coalTicks, range: coalRange, points: coalPoints, core: coalCore, fit: coalFit },
];

// layout (pixels)
const GRID_BOXES = [
  { left: 112, top: 92, width: 298, height: 311 },
  { left: 513, top: 92, width: 297, height: 311 },
  { left: 913, top: 92, width: 299, height: 311 },
  { left: 112, top: 507, width: 298, height: 311 },
  { left: 515, top: 507, width: 295, height: 311 },
  { left: 915, top: 507, width: 297, height: 311 },
];

const BG = "#eaf0f3";
const NAVY = "#1a476f";
const MAROON = "#90353b";
const TEXT = "#333333";
const AXIS = "#3a3a3a";
const FONT = "'Liberation Sans', Arial, sans-serif";

function fmt(v: number): string {
  if (v === 0) return "0";
  const s = String(Math.round(v * 100) / 100);
  return s.replace(/^0\./, ".");
}

export default function App() {
  const ref = useRef<HTMLDivElement>(null);
  useEffect(() => {
    if (!ref.current) return;
    const chart = echarts.init(ref.current, undefined, { renderer: "svg" });
    const grid: any[] = [];
    const xAxis: any[] = [];
    const yAxis: any[] = [];
    const series: any[] = [];
    PANELS.forEach((p, i) => {
      const b = GRID_BOXES[i];
      grid.push({ ...b, show: true, backgroundColor: "#ffffff", borderWidth: 0, containLabel: false });
      xAxis.push({
        gridIndex: i,
        type: "value",
        min: p.range[0],
        max: p.range[1],
        name: p.name,
        nameLocation: "middle",
        nameGap: 22,
        nameTextStyle: { fontSize: 21, color: TEXT, fontFamily: FONT },
        axisLine: { show: true, onZero: false, lineStyle: { color: AXIS, width: 1 } },
        axisTick: { show: true, length: 6, customValues: p.ticks, lineStyle: { color: AXIS } },
        axisLabel: { customValues: p.ticks, formatter: fmt, fontSize: 20, color: TEXT, fontFamily: FONT, margin: 8 },
        splitLine: { show: false },
      });
      yAxis.push({
        gridIndex: i,
        type: "value",
        min: Y_MIN,
        max: Y_MAX,
        name: Y_NAME,
        nameLocation: "middle",
        nameGap: 34,
        nameTextStyle: { fontSize: 21, color: TEXT, fontFamily: FONT },
        axisLine: { show: true, onZero: false, lineStyle: { color: AXIS, width: 1 } },
        axisTick: { show: true, length: 6, customValues: Y_TICKS, lineStyle: { color: AXIS } },
        axisLabel: { customValues: Y_TICKS, formatter: fmt, rotate: 90, fontSize: 20, color: TEXT, fontFamily: FONT, margin: 15 },
        splitLine: { show: true, lineStyle: { color: "#e6edf0", width: 1 } },
      });
      series.push({
        type: "scatter",
        xAxisIndex: i,
        yAxisIndex: i,
        data: [...p.points, ...p.core],
        symbol: "circle",
        symbolSize: 7,
        itemStyle: { color: NAVY, opacity: 1 },
        silent: true,
        large: false,
      });
      series.push({
        type: "line",
        xAxisIndex: i,
        yAxisIndex: i,
        data: p.fit,
        symbol: "none",
        lineStyle: { color: MAROON, width: 1.3 },
        silent: true,
        z: 3,
      });
    });
    chart.setOption({
      animation: false,
      backgroundColor: "#ffffff",
      textStyle: { fontFamily: FONT },
      graphic: [
        { type: "rect", z: -10, silent: true, shape: { x: 9, y: 13, width: 1237, height: 902 }, style: { fill: BG } },
        {
          type: "text",
          z: 10,
          x: 634,
          y: 53,
          style: { text: TITLE, fontSize: 25, fill: "#404040", fontFamily: FONT, textAlign: "center", textVerticalAlign: "middle" },
        },
      ],
      grid,
      xAxis,
      yAxis,
      series,
    });
    return () => chart.dispose();
  }, []);
  return <div ref={ref} style={{ position: "absolute", left: 0, top: 0, width: 1246, height: 915 }} />;
}
